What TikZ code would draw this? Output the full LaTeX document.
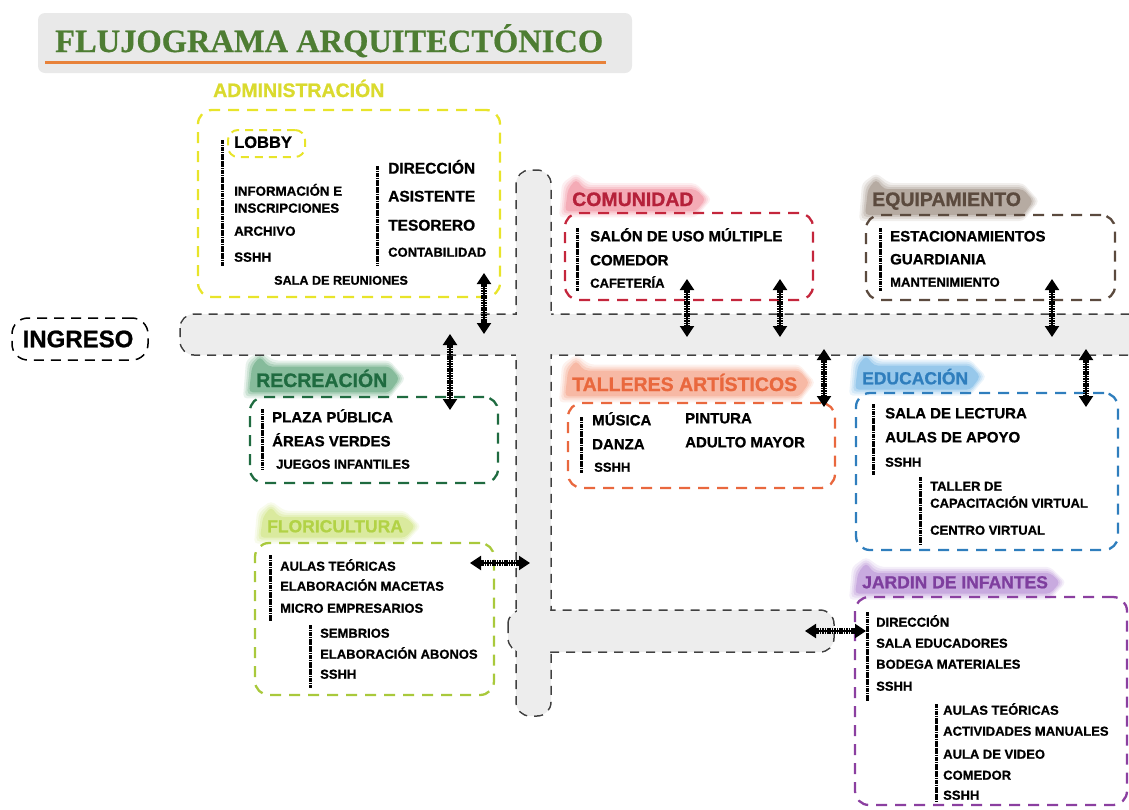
\documentclass[tikz,border=0pt]{standalone}
\usepackage{fontspec}
\setmainfont{Liberation Sans}[BoldFeatures={FakeBold=0.9}]
\newfontfamily\titlefont{Liberation Serif}[BoldFeatures={FakeBold=0.6}]
\usetikzlibrary{arrows.meta,calc,backgrounds}
\definecolor{titleG}{HTML}{4E7D33}
\definecolor{titleO}{HTML}{E8823A}
\definecolor{admY}{HTML}{E8E42A}
\definecolor{admT}{HTML}{DADA2E}
\definecolor{comR}{HTML}{C4263C}
\definecolor{comT}{HTML}{B5213A}
\definecolor{comB}{HTML}{EE7A8C}
\definecolor{eqC}{HTML}{5B4A3E}
\definecolor{eqB}{HTML}{8C7A6C}
\definecolor{recC}{HTML}{1F6B40}
\definecolor{recB}{HTML}{3F9460}
\definecolor{talC}{HTML}{E9683E}
\definecolor{talB}{HTML}{F29070}
\definecolor{eduC}{HTML}{2F7EBD}
\definecolor{eduB}{HTML}{5AA8E0}
\definecolor{floC}{HTML}{A9C93C}
\definecolor{floT}{HTML}{B2D246}
\definecolor{floB}{HTML}{C4DE66}
\definecolor{jarC}{HTML}{8B3FA0}
\definecolor{jarT}{HTML}{7E3E9E}
\definecolor{jarB}{HTML}{A878CC}
\definecolor{corrF}{HTML}{EDEDED}
\tikzset{
 box/.style={draw=#1, line width=2.3pt, dash pattern=on 11pt off 8pt, rounded corners=14pt, inner sep=0pt},
 corr/.style={draw=black!75, fill=corrF, line width=1.5pt, dash pattern=on 9pt off 7pt, rounded corners=14pt},
 corrin/.style={fill=corrF, rounded corners=13pt},
 vbar/.style={line width=3pt, dash pattern=on 1.8pt off 0.5pt},
 it/.style={anchor=base west, inner sep=0pt, font=\bfseries\fontsize{15}{16}\selectfont, yshift=-5.4pt},
 itb/.style={anchor=base west, inner sep=0pt, font=\bfseries\fontsize{15.5}{16}\selectfont, yshift=-5.6pt},
 its/.style={anchor=base west, inner sep=0pt, font=\bfseries\fontsize{13}{14}\selectfont, yshift=-4.7pt},
 lbl/.style={anchor=base west, inner sep=0pt, font=\bfseries\fontsize{19.5}{20}\selectfont, yshift=-7pt, text=#1},
 lbls/.style={anchor=base west, inner sep=0pt, font=\bfseries\fontsize{17.5}{18}\selectfont, yshift=-6.3pt, text=#1},
 dbl/.style={{Triangle[length=11pt,width=14pt]}-{Triangle[length=11pt,width=14pt]}, line width=2pt},
 hatch/.style={line width=6pt, dash pattern=on 1.6pt off 0.8pt, shorten >=10pt, shorten <=10pt},
}
\newcommand\brush[2]{%
  \begin{pgfonlayer}{background}
  \foreach \o/\op in {6/0.12,4/0.16,2/0.22,0/0.36}{%
    \fill[#2,opacity=\op,rounded corners=4pt]
      ($(#1.south west)+(-7-\o,5+\o)$) --
      ($(#1.north west)+(-4-\o,-3-\o)$) --
      ($(#1.north west)+(4,-13-\o)$) --
      ($(#1.north west)+(12+\o,-3-\o)$) --
      ($(#1.north east)+(2,-3-\o)$) --
      ($(#1.east)+(12+\o,0)$) --
      ($(#1.south east)+(2,5+\o)$) -- cycle;}
  \end{pgfonlayer}}
\begin{document}
\begin{tikzpicture}[x=1pt,y=-1pt]
\useasboundingbox (0,0) rectangle (1129,809);
% title
\node[fill=gray!17, rounded corners=7pt, minimum width=594pt, minimum height=60pt, inner sep=0pt] (titleBox) at (335,43) {};
\node[anchor=base west, inner sep=0pt, text=titleG, font=\titlefont\bfseries\fontsize{32.5}{34}\selectfont] (title) at (55,52) {FLUJOGRAMA ARQUITECTÓNICO};
\draw[titleO, line width=3pt] (45,62) -- (606,62);
% corridors
\draw[corr] (180,314) rectangle (1150,355);
\draw[corr] (516,170) rectangle (551,716);
\draw[corr] (508,610) rectangle (834,652);
\fill[corrin] (181,315) rectangle (1149,354);
\fill[corrin] (517,171) rectangle (550,715);
\fill[corrin] (509,611) rectangle (833,651);
% ingreso
\node[draw=black, line width=1.5pt, dash pattern=on 10pt off 7pt, rounded corners=16pt, minimum width=136pt, minimum height=42pt, inner sep=0pt] (ingBox) at (80,339) {};
\node[inner sep=0pt, font=\bfseries\fontsize{24}{26}\selectfont] (ing) at (78,339) {INGRESO};
% administracion
\node[anchor=base west, inner sep=0pt, font=\bfseries\fontsize{19.5}{20}\selectfont, text=admT, yshift=-7pt] (admL) at (213,90) {ADMINISTRACIÓN};
\node[box=admY, minimum width=302pt, minimum height=187pt] (admBox) at (349,203.5) {};
\node[draw=admY, line width=2pt, dash pattern=on 8pt off 6pt, rounded corners=10pt, minimum width=77pt, minimum height=27pt, inner sep=0pt] (lobbyBox) at (266.5,143.5) {};
\draw[vbar] (222,140) -- (222,266);
\draw[vbar] (377,166) -- (377,266);
\node[anchor=base west, inner sep=0pt, font=\bfseries\fontsize{16.5}{17}\selectfont, yshift=-5.9pt] (lobby) at (234,142) {LOBBY};
\node[itb] (dir) at (388,168) {DIRECCIÓN};
\node[its, font=\bfseries\fontsize{13.3}{14}\selectfont] (info1) at (234,191) {INFORMACIÓN E};
\node[its, font=\bfseries\fontsize{13.3}{14}\selectfont] (info2) at (234,208) {INSCRIPCIONES};
\node[itb] (asis) at (388,196) {ASISTENTE};
\node[its, font=\bfseries\fontsize{13.3}{14}\selectfont] (arch) at (234,231) {ARCHIVO};
\node[itb] (teso) at (388,225) {TESORERO};
\node[its, font=\bfseries\fontsize{13.3}{14}\selectfont] (sshhA) at (234,257) {SSHH};
\node[its] (conta) at (388,252) {CONTABILIDAD};
\node[its, font=\bfseries\fontsize{12.6}{14}\selectfont] (sala) at (274,280) {SALA DE REUNIONES};
% comunidad
\node[box=comR, minimum width=248pt, minimum height=87pt] (comBox) at (689,256.5) {};
\node[lbl=comT] (comL) at (572,199) {COMUNIDAD};
\brush{comL}{comB}
\draw[vbar] (577,228) -- (577,291);
\node[it] (sum) at (590,236) {SALÓN DE USO MÚLTIPLE};
\node[it] (come) at (590,260) {COMEDOR};
\node[its] (cafe) at (590,283) {CAFETERÍA};
% equipamiento
\node[box=eqC, minimum width=249pt, minimum height=85pt] (eqBox) at (990.5,257.5) {};
\node[lbl=eqC] (eqL) at (872,199) {EQUIPAMIENTO};
\brush{eqL}{eqB}
\draw[vbar] (880,228) -- (880,291);
\node[it] (esta) at (890,236) {ESTACIONAMIENTOS};
\node[it] (guar) at (890,259) {GUARDIANIA};
\node[its] (mant) at (890,282) {MANTENIMIENTO};
% recreacion
\node[box=recC, minimum width=248pt, minimum height=86pt] (recBox) at (374,440) {};
\node[lbl=recC] (recL) at (256,380) {RECREACIÓN};
\brush{recL}{recB}
\draw[vbar] (262,409) -- (262,469);
\node[it] (plaza) at (272,417) {PLAZA PÚBLICA};
\node[it] (areas) at (272,441) {ÁREAS VERDES};
\node[its] (juegos) at (276,464) {JUEGOS INFANTILES};
% talleres
\node[box=talC, minimum width=267pt, minimum height=85pt] (talBox) at (701.5,445.5) {};
\node[lbl=talC] (talL) at (572,384) {TALLERES ARTÍSTICOS};
\brush{talL}{talB}
\draw[vbar] (581,417) -- (581,473);
\node[it] (musi) at (592,420) {MÚSICA};
\node[it] (pint) at (685,418) {PINTURA};
\node[it] (danz) at (592,444) {DANZA};
\node[it] (adul) at (685,442) {ADULTO MAYOR};
\node[its] (sshhT) at (594,467) {SSHH};
% educacion
\node[box=eduC, minimum width=262pt, minimum height=157pt] (eduBox) at (987,471.5) {};
\node[lbls=eduC] (eduL) at (862,378) {EDUCACIÓN};
\brush{eduL}{eduB}
\draw[vbar] (873,404) -- (873,475);
\draw[vbar] (920,477) -- (920,544);
\node[it] (lect) at (885,413) {SALA DE LECTURA};
\node[it] (apoyo) at (885,437) {AULAS DE APOYO};
\node[its] (sshhE) at (885,462) {SSHH};
\node[its] (tall1) at (930,486) {TALLER DE};
\node[its] (tall2) at (930,503) {CAPACITACIÓN VIRTUAL};
\node[its] (cvirt) at (930,530) {CENTRO VIRTUAL};
% floricultura
\node[box=floC, minimum width=239pt, minimum height=152pt] (floBox) at (374.5,619) {};
\node[lbls=floT] (floL) at (267,526) {FLORICULTURA};
\brush{floL}{floB}
\draw[vbar] (270,555) -- (270,621);
\draw[vbar] (310,625) -- (310,688);
\node[its] (aulT) at (280,566) {AULAS TEÓRICAS};
\node[its] (elabM) at (280,586) {ELABORACIÓN MACETAS};
\node[its] (micro) at (280,608) {MICRO EMPRESARIOS};
\node[its] (semb) at (320,633) {SEMBRIOS};
\node[its] (elabA) at (320,654) {ELABORACIÓN ABONOS};
\node[its] (sshhF) at (320,674) {SSHH};
% jardin
\node[box=jarC, minimum width=272pt, minimum height=208pt] (jarBox) at (991,701) {};
\node[lbls=jarT] (jarL) at (862,582) {JARDIN DE INFANTES};
\brush{jarL}{jarB}
\draw[vbar] (867,612) -- (867,701);
\draw[vbar] (936,704) -- (936,801);
\node[its] (jdir) at (876,622) {DIRECCIÓN};
\node[its] (jsal) at (876,643) {SALA EDUCADORES};
\node[its] (jbod) at (876,664) {BODEGA MATERIALES};
\node[its] (jss1) at (876,686) {SSHH};
\node[its] (jaul) at (943,710) {AULAS TEÓRICAS};
\node[its] (jact) at (943,731) {ACTIVIDADES MANUALES};
\node[its] (jvid) at (943,754) {AULA DE VIDEO};
\node[its] (jcom) at (943,775) {COMEDOR};
\node[its] (jss2) at (943,795) {SSHH};
% arrows
\coordinate (a1s) at (484,273); \coordinate (a1e) at (484,334);
\coordinate (a2s) at (450,334); \coordinate (a2e) at (450,410);
\coordinate (a3s) at (687,279); \coordinate (a3e) at (687,337);
\coordinate (a4s) at (780,279); \coordinate (a4e) at (780,337);
\coordinate (a5s) at (824,349); \coordinate (a5e) at (824,407);
\coordinate (a6s) at (1052,279); \coordinate (a6e) at (1052,337);
\coordinate (a7s) at (1086,349); \coordinate (a7e) at (1086,407);
\coordinate (a8s) at (470,563); \coordinate (a8e) at (530,563);
\coordinate (a9s) at (805,631); \coordinate (a9e) at (866,631);
\foreach \a in {1,...,9}{
  \draw[dbl] (a\a s) -- (a\a e);
  \draw[hatch] (a\a s) -- (a\a e);
}
\end{tikzpicture}
\end{document}
